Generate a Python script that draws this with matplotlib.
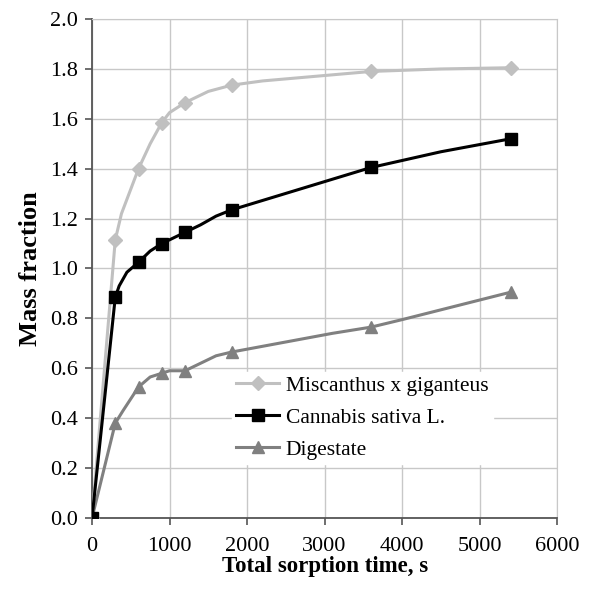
import matplotlib.pyplot as plt

plt.rcParams['font.family'] = ['Liberation Serif', 'DejaVu Serif']

# measured points (markers)
t_meas = [0, 300, 600, 900, 1200, 1800, 3600, 5400]

mis_t = [0, 300, 380, 600, 750, 900, 1000, 1200, 1500, 1800, 2200, 3600, 4500, 5400]
mis_m = [0, 1.115, 1.22, 1.40, 1.50, 1.585, 1.625, 1.665, 1.71, 1.735, 1.752, 1.79, 1.80, 1.805]
mis_idx = [0, 1, 3, 5, 7, 9, 11, 13]

can_t = [0, 300, 350, 450, 600, 750, 900, 1200, 1400, 1600, 1800, 3600, 4500, 5400]
can_m = [0, 0.885, 0.93, 0.985, 1.025, 1.07, 1.10, 1.145, 1.175, 1.21, 1.235, 1.405, 1.468, 1.52]
can_idx = [0, 1, 4, 6, 7, 10, 11, 13]

dig_t = [0, 300, 400, 600, 750, 900, 1000, 1200, 1400, 1600, 1800, 3100, 3600, 4000, 5400]
dig_m = [0, 0.38, 0.43, 0.525, 0.565, 0.58, 0.59, 0.59, 0.62, 0.65, 0.665, 0.74, 0.765, 0.795, 0.905]
dig_idx = [0, 1, 3, 5, 7, 10, 12, 14]

fig = plt.figure(figsize=(5.91, 5.96), dpi=100)
ax = fig.add_axes([0.1557, 0.131, 0.787, 0.837])

ax.plot(mis_t, mis_m, c='#c0c0c0', lw=2.2, marker='D', ms=7.5, markevery=mis_idx,
        label='Miscanthus x giganteus', zorder=3)
ax.plot(can_t, can_m, c='black', lw=2.2, marker='s', ms=9, markevery=can_idx,
        label='Cannabis sativa L.', zorder=4)
ax.plot(dig_t, dig_m, c='#808080', lw=2.2, marker='^', ms=8, markevery=dig_idx,
        label='Digestate', zorder=3)

ax.set_xlim(0, 6000)
ax.set_ylim(0, 2.0)
ax.set_xticks(range(0, 6001, 1000))
ax.set_yticks([i * 0.2 for i in range(11)])
ax.set_yticklabels(['%.1f' % (i * 0.2) for i in range(11)])
ax.grid(True, color='#c8c8c8', lw=1)
ax.set_axisbelow(True)
for s in ['top', 'right']:
    ax.spines[s].set_color('#c8c8c8')
for s in ['left', 'bottom']:
    ax.spines[s].set_color('#555555')
    ax.spines[s].set_linewidth(1.3)
ax.tick_params(direction='out', length=5, width=1.2, color='#555555',
               labelsize=16)
ax.tick_params(axis='x', pad=9)
ax.tick_params(axis='y', pad=5)

ax.set_xlabel('Total sorption time, s', fontsize=16.5, fontweight='bold', labelpad=0)
ax.set_ylabel('Mass fraction', fontsize=19, fontweight='bold', labelpad=6)

leg = ax.legend(loc='upper left', bbox_to_anchor=(0.278, 0.315), fontsize=15.5,
                frameon=True, fancybox=False, framealpha=1, edgecolor='white',
                handlelength=2.0, handletextpad=0.3, labelspacing=0.55,
                borderpad=0.2)

fig.savefig('out.png', dpi=100)
